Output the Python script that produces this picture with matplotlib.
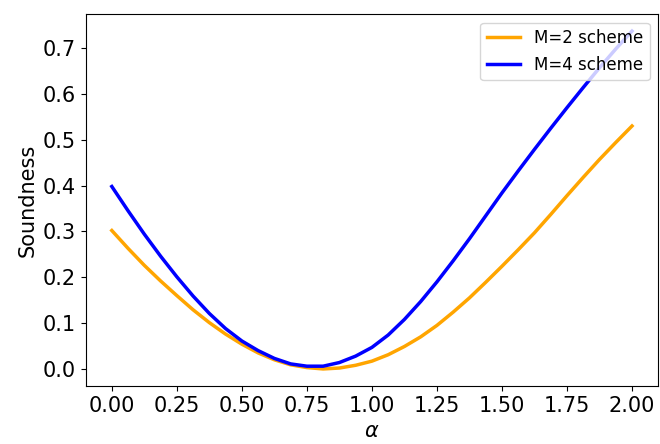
import numpy as np
import matplotlib
matplotlib.use('Agg')
from matplotlib import pyplot as plt

# alpha values (step 1/16)
alpha = [0.0, 0.0625, 0.125, 0.1875, 0.25, 0.3125, 0.375, 0.4375, 0.5,
         0.5625, 0.625, 0.6875, 0.75, 0.8125, 0.875, 0.9375, 1.0,
         1.0625, 1.125, 1.1875, 1.25, 1.3125, 1.375, 1.4375, 1.5,
         1.5625, 1.625, 1.6875, 1.75, 1.8125, 1.875, 1.9375, 2.0]
# soundness for the M=2 scheme
sound_m2 = [0.302, 0.263, 0.226, 0.192, 0.160, 0.129, 0.101, 0.076, 0.054,
            0.035, 0.020, 0.009, 0.003, 0.000, 0.002, 0.008, 0.017,
            0.031, 0.049, 0.070, 0.095, 0.124, 0.155, 0.189, 0.224,
            0.260, 0.297, 0.337, 0.378, 0.418, 0.457, 0.494, 0.530]
# soundness for the M=4 scheme
sound_m4 = [0.398, 0.345, 0.294, 0.246, 0.201, 0.159, 0.121, 0.088, 0.061,
            0.040, 0.023, 0.011, 0.006, 0.006, 0.014, 0.028, 0.047,
            0.074, 0.108, 0.147, 0.190, 0.236, 0.284, 0.334, 0.384,
            0.432, 0.479, 0.525, 0.570, 0.614, 0.657, 0.698, 0.737]

fig = plt.figure(figsize=(6.6, 4.44), dpi=100)
ax = fig.add_axes([0.130, 0.131, 0.867, 0.837])

ax.plot(alpha, sound_m2, color='orange', linewidth=2.5, label='M=2 scheme')
ax.plot(alpha, sound_m4, color='blue', linewidth=2.5, label='M=4 scheme')

ax.set_xticks(np.arange(0, 2.01, 0.25))
ax.set_yticks(np.arange(0, 0.71, 0.1))
ax.tick_params(labelsize=15)
ax.set_xlabel(r'$\alpha$', fontsize=15)
ax.set_ylabel('Soundness', fontsize=15)
ax.legend(loc='upper right', fontsize=12)

fig.savefig('out.png', dpi=100)
